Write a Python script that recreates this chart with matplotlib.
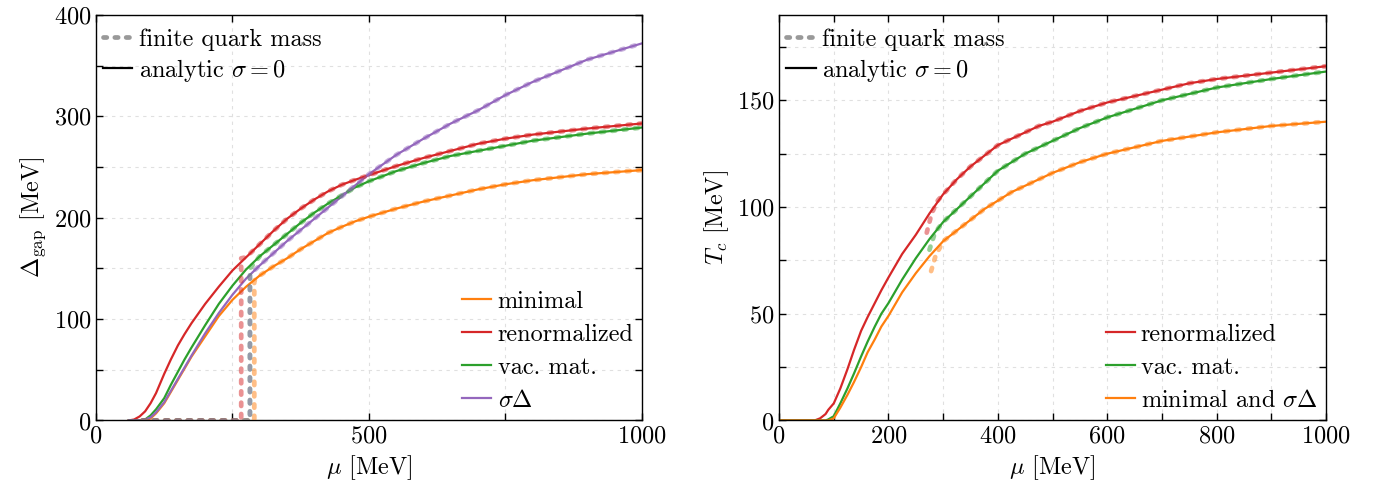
import numpy as np
import matplotlib
matplotlib.use('Agg')
import matplotlib.pyplot as plt
from matplotlib.ticker import MultipleLocator
from matplotlib.lines import Line2D

plt.rcParams['font.family'] = 'cmr10'
plt.rcParams['mathtext.fontset'] = 'cm'
plt.rcParams['axes.formatter.use_mathtext'] = True
plt.rcParams['font.size'] = 17.5

C_MIN = '#ff7f0e'
C_REN = '#d62728'
C_VAC = '#2ca02c'
C_SD = '#9467bd'

# ---- gap, analytic sigma = 0 ----
mu_gap = [60, 70, 80, 90, 100, 110, 125, 137, 150, 162, 175, 200, 225, 250,
          275, 300, 325, 350, 375, 400, 425, 450, 475, 500, 550, 600, 650,
          700, 750, 800, 900, 1000]
gap_ren = [0, 1, 4, 9, 17, 27, 46, 60, 74, 85, 96, 115, 132, 148,
           161, 174, 187, 199, 209, 218, 226, 232.5, 237.5, 242, 251, 259, 266,
           273, 278, 282, 288, 293]
gap_vac = [0, 0, 0, 1, 5, 11, 22, 35, 48, 60, 72, 94, 115, 133,
           149, 162, 173, 184, 195, 205, 214, 222, 230, 236, 246, 254, 261,
           266, 271, 276, 283, 289]
gap_sd = [0, 0, 0, 1, 3, 8, 18, 29, 41, 52, 64, 86, 106, 124,
          140, 153, 165, 177, 188, 199, 210, 221, 232, 243, 262, 278, 293,
          306, 321, 334, 356, 372]
gap_min = [0, 0, 0, 0, 2, 7, 17, 28, 40, 51, 63, 83, 103, 119,
           132, 143, 152, 160, 169, 177, 185, 191, 196.5, 201, 209, 216, 222,
           228, 233, 237, 243, 247]

# ---- gap, finite quark mass: zero, then a jump at mu_c ----
muc_gap = {'ren': 266, 'vac': 282, 'sd': 282, 'min': 290}
jump_gap = {'ren': 160, 'vac': 150, 'sd': 144, 'min': 138}
mu_zero_start = 85

# ---- Tc, analytic ----
mu_tc = [0, 65, 75, 85, 90, 100, 112, 125, 137, 150, 162, 175, 187, 200, 225,
         250, 275, 300, 325, 350, 375, 400, 425, 450, 475, 500, 550, 600, 650,
         700, 750, 800, 900, 1000]
tc_ren = [0, 0, 1, 3, 5, 8, 15, 24, 33, 42, 48.5, 55, 61, 67, 78,
          87, 97, 106, 113, 119, 124, 129, 132, 135, 138, 140, 145, 149, 152,
          155, 158, 160, 163, 166]
tc_vac = [0, 0, 0, 0, 0.5, 2, 8, 15, 22, 30, 37, 44, 50, 55, 66,
          76, 85, 93, 99, 105, 111, 117, 121, 125, 128, 131, 137, 142, 146,
          150, 153, 156, 160, 163.5]
tc_min = [0, 0, 0, 0, 0, 1, 6, 12, 18, 25, 32, 38, 44, 49, 60,
          69, 77, 84, 89, 94, 99, 103, 107, 110, 113, 116, 121, 125, 128,
          131, 133, 135, 138, 140]

# ---- Tc, finite quark mass (start of the dashed curves) ----
tc_fin_ren_mu = [270, 279, 290]
tc_fin_ren = [88, 97, 103]
tc_fin_vac_mu = [275, 285, 300]
tc_fin_vac = [80, 88, 93]
tc_fin_min_mu = [278, 286, 300]
tc_fin_min = [70, 77, 84]


def dashed(ax, x, y, c):
    ax.plot(x, y, color=c, lw=3.4, alpha=0.5, dashes=(0.7, 1.7),
            dash_capstyle='round', zorder=3)


def style(ax):
    ax.tick_params(which='both', direction='in', top=True, right=True,
                   length=5, width=1)
    ax.grid(True, which='both', ls=(0, (3, 4)), color='#e0e0e0', lw=0.8)
    for s in ax.spines.values():
        s.set_linewidth(1)


leg_kw = dict(frameon=False, handlelength=1.2, handletextpad=0.25,
              borderpad=0.3, borderaxespad=0.05, labelspacing=0.45)
top_kw = dict(frameon=False, handlelength=1.2, handletextpad=0.25,
              borderpad=0.3, borderaxespad=0.0, labelspacing=0.25,
              loc='upper left', bbox_to_anchor=(0.0, 0.985))

fig = plt.figure(figsize=(13.85, 4.87), dpi=100)
ax1 = fig.add_axes([0.0693, 0.1366, 0.3942, 0.8326])
ax2 = fig.add_axes([0.5625, 0.1366, 0.3949, 0.8326])

# left panel
series = [('min', gap_min, C_MIN), ('ren', gap_ren, C_REN),
          ('vac', gap_vac, C_VAC), ('sd', gap_sd, C_SD)]
labels = {'min': 'minimal', 'ren': 'renormalized', 'vac': 'vac. mat.',
          'sd': r'$\sigma\Delta$'}
handles = []
for key, vals, c in series:
    h, = ax1.plot(mu_gap, vals, color=c, lw=1.6, zorder=2, label=labels[key])
    handles.append(h)
for key, vals, c in series:
    above = [(m, v) for m, v in zip(mu_gap, vals) if m > muc_gap[key]]
    x = [mu_zero_start, muc_gap[key], muc_gap[key]] + [a[0] for a in above]
    y = [0, 0, jump_gap[key]] + [a[1] for a in above]
    dashed(ax1, x, y, c)

ax1.set_xlim(0, 1000)
ax1.set_ylim(0, 400)
ax1.xaxis.set_major_locator(MultipleLocator(500))
ax1.xaxis.set_minor_locator(MultipleLocator(250))
ax1.yaxis.set_major_locator(MultipleLocator(100))
ax1.yaxis.set_minor_locator(MultipleLocator(50))
style(ax1)
ax1.set_xlabel(r'$\mu$ [MeV]')
ax1.set_ylabel(r'$\Delta_{\mathrm{gap}}$ [MeV]')

top_handles = [Line2D([], [], color='gray', lw=3.4, alpha=0.8, dashes=(0.7, 1.7),
                      dash_capstyle='round'),
               Line2D([], [], color='black', lw=1.6)]
top_labels = ['finite quark mass', r'analytic $\sigma=0$']
leg = ax1.legend(top_handles, top_labels, **top_kw)
ax1.add_artist(leg)
ax1.legend(handles=handles, loc='lower right', **leg_kw)

# right panel
series2 = [('ren', tc_ren, C_REN, tc_fin_ren_mu, tc_fin_ren),
           ('vac', tc_vac, C_VAC, tc_fin_vac_mu, tc_fin_vac),
           ('min', tc_min, C_MIN, tc_fin_min_mu, tc_fin_min)]
labels2 = {'ren': 'renormalized', 'vac': 'vac. mat.',
           'min': r'minimal and $\sigma\Delta$'}
handles2 = []
for key, vals, c, fm, fv in series2:
    h, = ax2.plot(mu_tc, vals, color=c, lw=1.6, zorder=2, label=labels2[key])
    handles2.append(h)
for key, vals, c, fm, fv in series2:
    above = [(m, v) for m, v in zip(mu_tc, vals) if m > fm[-1]]
    x = fm + [a[0] for a in above]
    y = fv + [a[1] for a in above]
    dashed(ax2, x, y, c)

ax2.set_xlim(0, 1000)
ax2.set_ylim(0, 190)
ax2.xaxis.set_major_locator(MultipleLocator(200))
ax2.xaxis.set_minor_locator(MultipleLocator(100))
ax2.yaxis.set_major_locator(MultipleLocator(50))
ax2.yaxis.set_minor_locator(MultipleLocator(25))
style(ax2)
ax2.set_xlabel(r'$\mu$ [MeV]')
ax2.set_ylabel(r'$T_c$ [MeV]')

leg2 = ax2.legend(top_handles, top_labels, **top_kw)
ax2.add_artist(leg2)
ax2.legend(handles=handles2, loc='lower right', **leg_kw)

fig.savefig('out.png', dpi=100)
